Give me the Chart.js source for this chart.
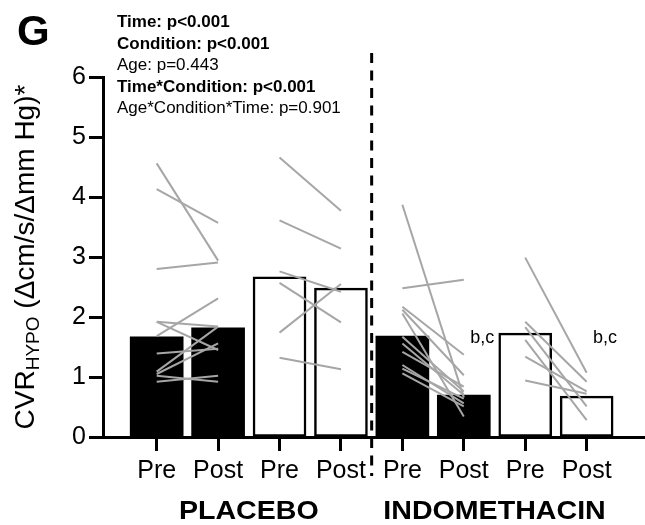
<!DOCTYPE html>
<html>
<head>
<meta charset="utf-8">
<script src="https://cdn.jsdelivr.net/npm/chart.js"></script>
<style>
  html, body { margin: 0; padding: 0; background: #fff; }
  #wrap { width: 645px; height: 525px; }
</style>
</head>
<body>
<div id="wrap"><canvas id="chart" width="645" height="525"></canvas></div>
<script>
// time points along the x axis
const timeLabels = ['Pre', 'Post', 'Pre', 'Post', 'Pre', 'Post', 'Pre', 'Post']
const groupLabels = ['PLACEBO', 'INDOMETHACIN']
const yTicks = [0, 1, 2, 3, 4, 5, 6]

// group means (bars)
const barMeans = [1.67, 1.82, 2.67, 2.48, 1.68, 0.70, 1.73, 0.68]

// single subjects, [pre, post]
const placeboSolid = [[4.56, 2.94], [4.13, 3.57], [2.80, 2.91], [1.68, 2.31], [1.92, 1.84], [1.92, 1.45],
    [1.39, 1.47], [1.09, 1.84], [1.05, 1.56], [1.02, 0.92], [0.92, 1.02]]
const placeboOpen = [[4.66, 3.77], [3.61, 3.14], [2.76, 2.42], [2.57, 1.91], [1.74, 2.55], [1.32, 1.13]]
const indoSolid = [[3.87, 0.66], [2.48, 2.62], [2.17, 1.37], [2.12, 1.03], [2.06, 0.34], [1.67, 0.76],
    [1.56, 0.70], [1.42, 0.84], [1.20, 0.56], [1.14, 0.64], [1.06, 0.51]]
const indoOpen = [[2.99, 1.07], [1.92, 0.92], [1.83, 0.51], [1.62, 0.28], [1.34, 0.76], [0.94, 0.72]]

// stats block + post-hoc marks
const statLines = ['Time: p<0.001', 'Condition: p<0.001', 'Age: p=0.443', 'Time*Condition: p<0.001', 'Age*Condition*Time: p=0.901']
const sigLabel = 'b,c'
const sigBars = [5, 7]

const FONT = '"Liberation Sans", Arial, sans-serif'
Chart.defaults.font.family = FONT
Chart.defaults.color = '#000'

const datasets = [{
    type: 'bar',
    data: barMeans.map((v, i) => ({ x: i + 1, y: v })),
    backgroundColor: barMeans.map((v, i) => i % 4 < 2 ? '#000' : '#fff'),
    borderColor: '#000',
    borderWidth: barMeans.map((v, i) => i % 4 < 2 ? 0 : 2.5),
    borderSkipped: false,
    barThickness: 53,
    order: 2,
}]

;[placeboSolid, placeboOpen, indoSolid, indoOpen].forEach((set, k) => {
    set.forEach(p => {
        datasets.push({
            type: 'line',
            data: [{ x: 2 * k + 1, y: p[0] }, { x: 2 * k + 2, y: p[1] }],
            borderColor: '#a6a6a6',
            borderWidth: 2,
            pointRadius: 0,
            order: 1,
        })
    })
})

const extras = {
    id: 'extras',
    afterDraw(chart) {
        const { ctx, chartArea } = chart
        const x = chart.scales.x
        const y = chart.scales.y
        ctx.save()

        // dashed divider between conditions
        const xd = x.getPixelForValue(4.5)
        ctx.strokeStyle = '#000'
        ctx.lineWidth = 3
        ctx.setLineDash([10, 7.5])
        ctx.beginPath()
        ctx.moveTo(xd, 53)
        ctx.lineTo(xd, 476)
        ctx.stroke()
        ctx.setLineDash([])

        ctx.fillStyle = '#000'
        ctx.textBaseline = 'alphabetic'

        // condition labels (a bit wider than liberation bold)
        ctx.textAlign = 'center'
        ctx.font = 'bold 26px ' + FONT
        groupLabels.forEach((g, i) => {
            ctx.save()
            ctx.translate(x.getPixelForValue(2.5 + 4 * i), 519)
            ctx.scale(1.1, 1)
            ctx.fillText(g, 0, 0)
            ctx.restore()
        })

        // post-hoc letters
        ctx.font = '18px ' + FONT
        sigBars.forEach(i => {
            ctx.fillText(sigLabel, x.getPixelForValue(i + 1.3), y.getPixelForValue(1.57))
        })

        // panel letter
        ctx.textAlign = 'left'
        ctx.font = 'bold 42px ' + FONT
        ctx.fillText('G', 17, 45)

        // stats
        statLines.forEach((t, i) => {
            ctx.font = (t.includes('<') ? 'bold ' : '') + '17px ' + FONT
            ctx.fillText(t, 117, 27.3 + 21.4 * i)
        })

        // y title with subscript
        const parts = [['CVR', 28, 0], ['HYPO', 19, 5], [' (\u0394cm/s/\u0394mm Hg)*', 28, 0]]
        let total = 0
        parts.forEach(p => {
            ctx.font = p[1] + 'px ' + FONT
            total += ctx.measureText(p[0]).width
        })
        ctx.translate(34, (chartArea.top + chartArea.bottom) / 2)
        ctx.rotate(-Math.PI / 2)
        let cx = -total / 2
        parts.forEach(p => {
            ctx.font = p[1] + 'px ' + FONT
            ctx.fillText(p[0], cx, p[2])
            cx += ctx.measureText(p[0]).width
        })
        ctx.restore()
    }
}

new Chart(document.getElementById('chart'), {
    type: 'bar',
    data: { datasets: datasets },
    plugins: [extras],
    options: {
        responsive: false,
        devicePixelRatio: 1,
        animation: false,
        layout: { padding: { top: 77, left: 0, right: 0, bottom: 0 } },
        plugins: { legend: { display: false }, tooltip: { enabled: false } },
        scales: {
            x: {
                type: 'linear',
                min: 0.126,
                max: 8.95,
                offset: false,
                afterBuildTicks: s => { s.ticks = timeLabels.map((t, i) => ({ value: i + 1 })) },
                afterFit: s => { s.height = 88 },
                ticks: {
                    autoSkip: false,
                    maxRotation: 0,
                    padding: 5,
                    font: { size: 25 },
                    callback: v => timeLabels[v - 1],
                },
                grid: { offset: false, drawOnChartArea: false, tickLength: 14, tickWidth: 3, color: '#000' },
                border: { color: '#000', width: 3 },
            },
            y: {
                min: 0,
                max: 6,
                afterBuildTicks: s => { s.ticks = yTicks.map(v => ({ value: v })) },
                afterFit: s => { s.width = 103 },
                ticks: { padding: 3, font: { size: 25 } },
                grid: { drawOnChartArea: false, tickLength: 14, tickWidth: 3, color: '#000' },
                border: { color: '#000', width: 3 },
            },
        },
    },
})
</script>
</body>
</html>
